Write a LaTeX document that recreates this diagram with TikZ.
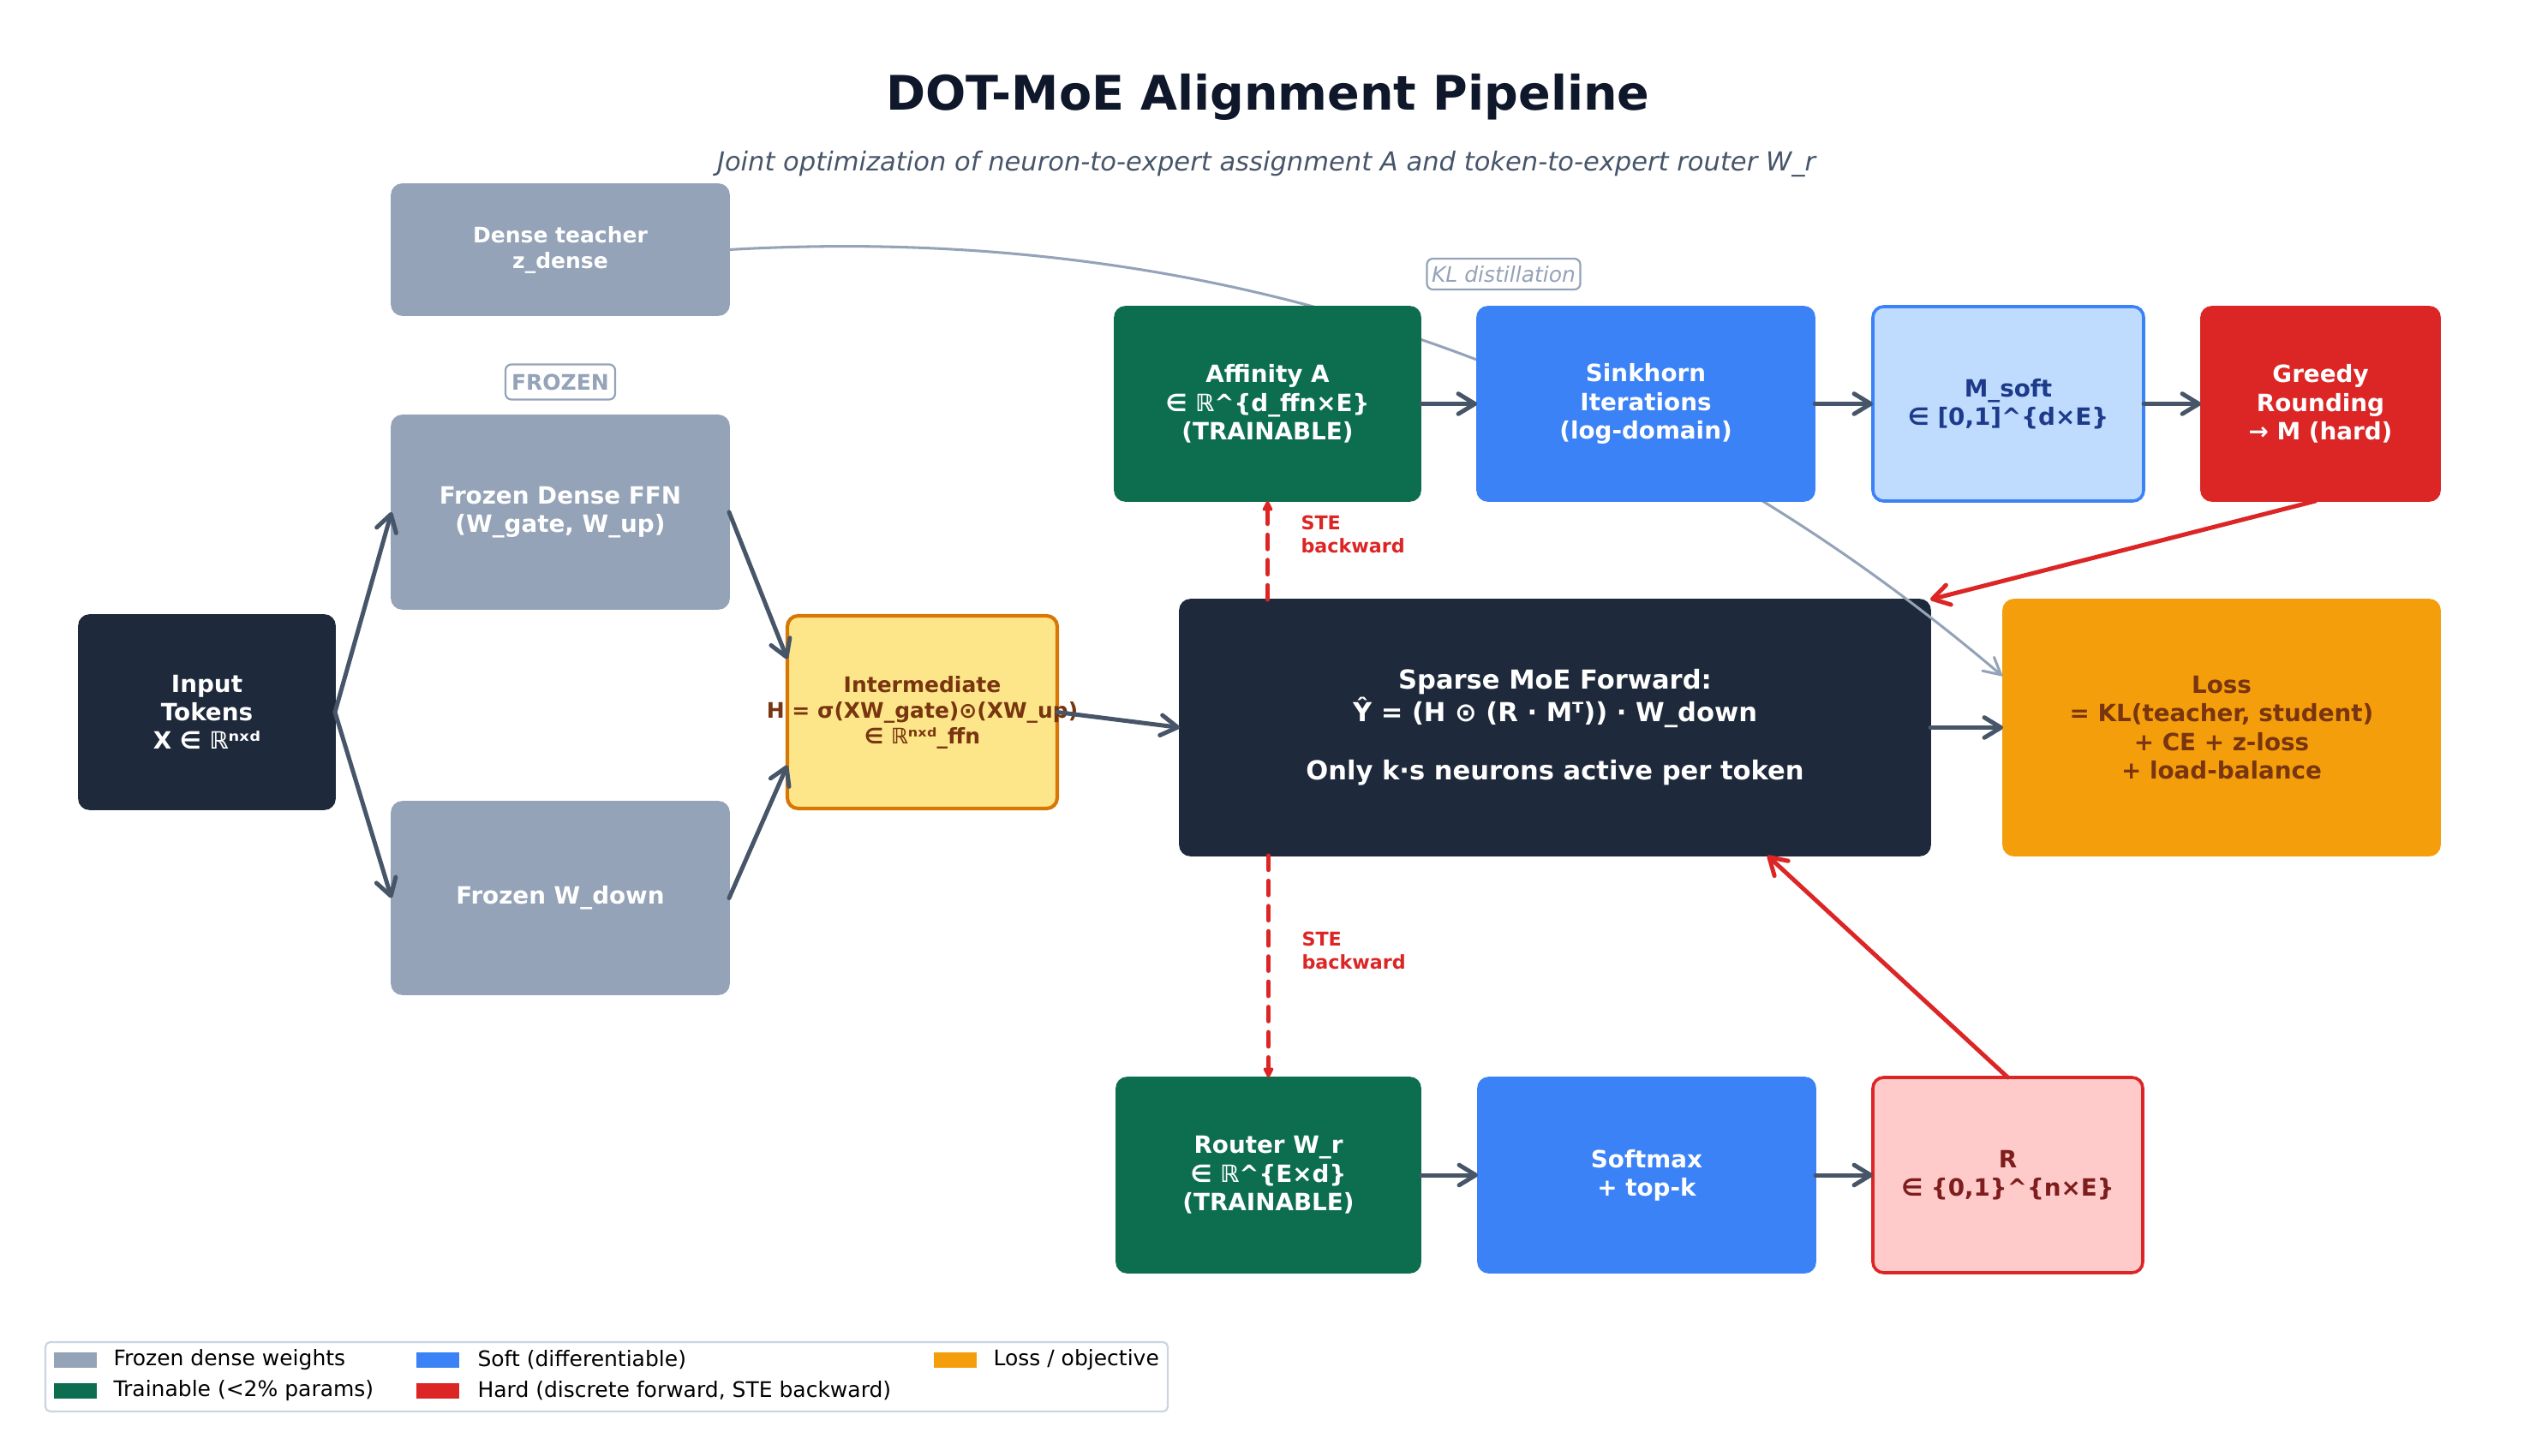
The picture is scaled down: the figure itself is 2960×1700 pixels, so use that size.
\documentclass[tikz,border=0pt]{standalone}
\usepackage{fontspec}
\setmainfont{DejaVu Sans}
\usetikzlibrary{arrows.meta,calc}
\definecolor{frozen}{HTML}{94A3B8}
\definecolor{darkbox}{HTML}{1E293B}
\definecolor{train}{HTML}{0C6E4F}
\definecolor{soft}{HTML}{3B82F6}
\definecolor{softlight}{HTML}{BFDBFE}
\definecolor{softtext}{HTML}{1E3A8A}
\definecolor{hard}{HTML}{DC2626}
\definecolor{hardlight}{HTML}{FECACA}
\definecolor{hardtext}{HTML}{7F1D1D}
\definecolor{interfill}{HTML}{FDE68A}
\definecolor{interdraw}{HTML}{D97706}
\definecolor{losscol}{HTML}{F59E0B}
\definecolor{losstext}{HTML}{78350F}
\definecolor{arrowc}{HTML}{475569}
\definecolor{titlec}{HTML}{0F172A}
\definecolor{subc}{HTML}{475569}
\definecolor{legborder}{HTML}{CBD5E1}
\begin{document}
\begin{tikzpicture}[x=0.36pt,y=-0.36pt,
  sz/.style 2 args={minimum width=#1*0.36pt, minimum height=#2*0.36pt},
  box/.style={rounded corners=4.5pt, inner sep=0pt, outer sep=0pt, align=center,
    font=\bfseries\fontsize{10}{12}\selectfont, text=white, line width=0.6pt},
  frozenbox/.style={box, fill=frozen, draw=frozen},
  darkbx/.style={box, fill=darkbox, draw=darkbox},
  trainbox/.style={box, fill=train, draw=train},
  softbox/.style={box, fill=soft, draw=soft},
  hardbox/.style={box, fill=hard, draw=hard},
  tag/.style={draw=frozen, fill=white, text=frozen, rounded corners=2.5pt, line width=0.8pt, inner sep=0pt, outer sep=0pt},
  arr/.style={draw=arrowc, line width=1.8pt, line cap=round, -{Straight Barb[length=7pt,width=8.5pt,line cap=round,line join=round]}},
  hardarr/.style={draw=hard, line width=1.8pt, line cap=round, -{Straight Barb[length=7pt,width=8.5pt,line cap=round,line join=round]}},
  ste/.style={draw=hard, line width=1.8pt, line cap=round, dash pattern=on 6pt off 4.6pt, -{Triangle[length=5pt,width=4.6pt,round]}},
  klarr/.style={draw=frozen, line width=1.1pt, -{Straight Barb[length=7pt,width=7.5pt,line cap=round]}},
  stelabel/.style={text=hard, font=\bfseries\fontsize{8}{9.6}\selectfont, align=left, inner sep=0pt},
  swatch/.style={minimum width=50*0.36pt, minimum height=18*0.36pt, inner sep=0pt},
  legtext/.style={anchor=west, inner sep=0pt, font=\fontsize{9}{10.8}\selectfont, text=black}
]
\useasboundingbox (0,0) rectangle (2960,1700);
\fill[white] (0,0) rectangle (2960,1700);

% title
\node[anchor=base, font=\bfseries\fontsize{20}{24}\selectfont, text=titlec] (title) at (1480,129) {DOT-MoE Alignment Pipeline};
\node[anchor=base, font=\itshape\fontsize{11}{13.2}\selectfont, text=subc] (subtitle) at (1478,200) {Joint optimization of neuron-to-expert assignment A and token-to-expert router W\_r};

% left column
\node[frozenbox, sz={394}{153}, font=\bfseries\fontsize{9}{10.8}\selectfont] (teacher) at (654,291.5) {Dense teacher\\z\_dense};
\node[tag, font=\bfseries\fontsize{9}{10.8}\selectfont, sz={128}{41}] (frozenlab) at (654,446) {FROZEN};
\node[frozenbox, sz={394}{226}] (ffn) at (654,598) {Frozen Dense FFN\\(W\_gate, W\_up)};
\node[darkbx, sz={299}{227}] (input) at (241.5,831.5) {Input\\Tokens\\X ∈ ℝⁿˣᵈ};
\node[frozenbox, sz={394}{225}] (wdown) at (654,1048.5) {Frozen W\_down};
\node[box, fill=interfill, draw=interdraw, line width=1.5pt, inner xsep=-25pt, text=losstext,
  font=\bfseries\fontsize{9}{10.8}\selectfont, sz={315}{225}] (inter) at (1076.5,831.5)
  {Intermediate\\H = σ(XW\_gate)⊙(XW\_up)\\∈ ℝⁿˣᵈ\_ffn};

% centre
\node[darkbx, sz={876}{299}, font=\bfseries\fontsize{11}{13.2}\selectfont] (moe) at (1815,849.5)
  {Sparse MoE Forward:\\[0.5pt]Ŷ = (H ⊙ (R · Mᵀ)) · W\_down\\[-1.9pt]~\\Only k·s neurons active per token};
\node[box, fill=losscol, draw=losscol, text=losstext, sz={510}{299}] (loss) at (2593,849.5)
  {Loss\\= KL(teacher, student)\\+ CE + z-loss\\+ load-balance};

% bottom row
\node[trainbox, sz={355}{228}] (router) at (1480.5,1372) {Router W\_r\\∈ ℝ\textasciicircum\{E×d\}\\(TRAINABLE)};
\node[softbox, sz={394}{228}] (softmax) at (1922,1372) {Softmax\\+ top-k};
\node[box, fill=hardlight, draw=hard, line width=1.3pt, text=hardtext, sz={315}{228}] (rnode) at (2343.5,1372) {R\\∈ \{0,1\}\textasciicircum\{n×E\}};

% KL distillation curve (behind the top row)
\draw[klarr] (teacher.east) .. controls +(562,-32) and +(-429,-365) .. ($(loss.north west)+(0,90)$);

% top row
\node[trainbox, sz={357}{227}] (affinity) at (1479.5,471.5) {Affinity A\\∈ ℝ\textasciicircum\{d\_ffn×E\}\\(TRAINABLE)};
\node[softbox, sz={394}{227}] (sinkhorn) at (1921,471.5) {Sinkhorn\\Iterations\\(log-domain)};
\node[box, fill=softlight, draw=soft, line width=1.3pt, text=softtext, sz={316}{227}] (msoft) at (2344,471.5) {M\_soft\\∈ [0,1]\textasciicircum\{d×E\}};
\node[hardbox, sz={279}{227}] (greedy) at (2708.5,471.5) {Greedy\\Rounding\\→ M (hard)};
\node[tag, font=\itshape\fontsize{9}{10.8}\selectfont, sz={179}{36}] (kllab) at (1755,320) {KL distillation};

% connectors
\draw[arr] (input.east) -- (ffn.west);
\draw[arr] (input.east) -- (wdown.west);
\draw[arr] (ffn.east) -- ($(inter.west)+(0,-62)$);
\draw[arr] (wdown.east) -- ($(inter.west)+(0,62)$);
\draw[arr] (inter.east) -- (moe.west);
\draw[arr] (affinity.east) -- (sinkhorn.west);
\draw[arr] (sinkhorn.east) -- (msoft.west);
\draw[arr] (msoft.east) -- (greedy.west);
\draw[arr] (moe.east) -- (loss.west);
\draw[arr] (router.east) -- (softmax.west);
\draw[arr] (softmax.east) -- (rnode.west);
\draw[hardarr] ($(greedy.south)+(-6,0)$) -- (moe.north east);
\draw[hardarr] (rnode.north) -- ($(moe.south)+(248,0)$);
\draw[ste] (affinity.south |- moe.north) -- (affinity.south);
\draw[ste] (router.north |- moe.south) -- (router.north);
\node[stelabel, anchor=west] (ste1) at (1518,624) {STE\\backward};
\node[stelabel, anchor=west] (ste2) at (1519,1110) {STE\\backward};

% legend
\node[draw=legborder, fill=white, line width=0.8pt, rounded corners=2pt, sz={1310}{81}, inner sep=0pt] (legend) at (708,1607.5) {};
\node[swatch, fill=frozen] (sw1) at (88,1587.5) {};
\node[legtext] (lt1) at (132,1587.5) {Frozen dense weights};
\node[swatch, fill=train] (sw2) at (88,1624) {};
\node[legtext] (lt2) at (132,1624) {Trainable (<2\% params)};
\node[swatch, fill=soft] (sw3) at (511,1587.5) {};
\node[legtext] (lt3) at (557,1587.5) {Soft (differentiable)};
\node[swatch, fill=hard] (sw4) at (511,1624) {};
\node[legtext] (lt4) at (557,1624) {Hard (discrete forward, STE backward)};
\node[swatch, fill=losscol] (sw5) at (1115,1587.5) {};
\node[legtext] (lt5) at (1159,1587.5) {Loss / objective};
\end{tikzpicture}
\end{document}
